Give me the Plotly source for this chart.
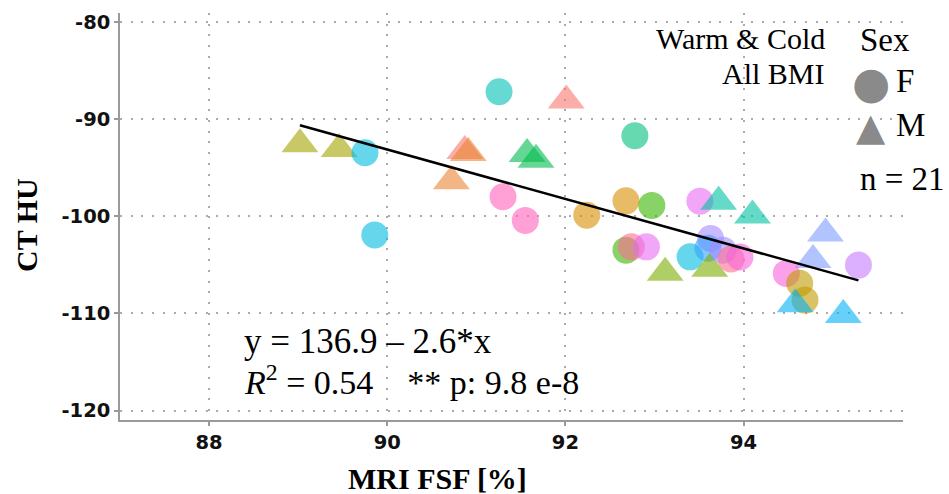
import plotly.graph_objects as go
import numpy as np

# ---------------- data ----------------
mri_fsf = [89.02, 89.46, 89.75, 89.86, 90.72, 90.87, 90.91, 91.255, 91.30, 91.55,
           91.57, 91.67, 92.01, 92.24, 92.68, 92.97, 92.68, 92.74, 92.91, 92.78,
           93.12, 93.51, 93.72, 94.10, 93.40, 93.63, 93.60, 93.62, 93.77, 93.86,
           93.96, 94.92, 94.78, 95.29, 94.48, 94.63, 94.69, 94.58, 95.12]
ct_hu = [-92.61, -93.09, -93.48, -101.94, -96.4, -93.3, -93.5, -87.2, -98.0, -100.43,
         -93.6, -94.2, -88.09, -99.89, -98.42, -98.89, -103.49, -103.15, -103.15, -91.73,
         -105.82, -98.45, -98.52, -99.92, -104.18, -102.29, -103.3, -105.41, -103.49, -104.4,
         -104.2, -101.77, -104.5, -105.03, -105.88, -106.9, -108.63, -109.05, -110.17]
sex = ['M', 'M', 'F', 'F', 'M', 'M', 'M', 'F', 'F', 'F',
       'M', 'M', 'M', 'F', 'F', 'F', 'F', 'F', 'F', 'F',
       'M', 'F', 'M', 'M', 'F', 'F', 'F', 'M', 'F', 'F',
       'F', 'M', 'M', 'F', 'F', 'F', 'F', 'M', 'M']
subject = [4, 4, 11, 11, 1, 0, 1, 10, 18, 18,
           7, 7, 0, 2, 2, 6, 6, 19, 16, 8,
           5, 16, 9, 9, 11, 20, 13, 5, 20, 19,
           17, 14, 14, 15, 17, 3, 3, 12, 12]

x_ticks = [88, 90, 92, 94]
y_ticks = [-80, -90, -100, -110, -120]

# ---------------- styles ----------------
palette = ['#F8766D', '#EA8331', '#D89000', '#C09B00', '#A3A500', '#7CAE00', '#39B600',
           '#00BB4E', '#00BF7D', '#00C1A3', '#00BFB5', '#00BAE0', '#00B0F6', '#35A2FF',
           '#7F9CFF', '#C77CFF', '#E76BF3', '#FA62DB', '#FF62BC', '#FF6C91', '#A58AFF']
sym_map = {'F': 'circle', 'M': 'triangle-up'}
size_map = {'F': 27, 'M': 32}

W, H = 949, 494
L, R, T, B = 120, 46, 13, 74
PW, PH = W - L - R, H - T - B


def px(xp):
    return (xp - L) / PW


def py(yp):
    return (H - B - yp) / PH


fig = go.Figure()

fig.add_trace(go.Scatter(
    x=mri_fsf, y=ct_hu, mode='markers', showlegend=False,
    marker=dict(symbol=[sym_map[s] for s in sex],
                size=[size_map[s] for s in sex],
                color=[palette[i] for i in subject],
                opacity=0.6, line=dict(width=0)),
))

slope, intercept = np.polyfit(mri_fsf, ct_hu, 1)
xs = [min(mri_fsf), max(mri_fsf)]
fig.add_trace(go.Scatter(
    x=xs, y=[intercept + slope * v for v in xs], mode='lines', showlegend=False,
    line=dict(color='black', width=2.5),
))

grid = dict(showgrid=True, gridcolor='#ababab', gridwidth=2, griddash='2px,8.7px',
            showline=True, linecolor='#9a9a9a', linewidth=1.5, zeroline=False,
            ticks='outside', ticklen=4, tickcolor='#9a9a9a', tickwidth=1.5,
            tickfont=dict(family='DejaVu Sans', size=19.5, color='#111111', weight='bold'))

fig.update_layout(
    width=W, height=H,
    margin=dict(l=L, r=R, t=T, b=B),
    plot_bgcolor='white', paper_bgcolor='white',
    xaxis=dict(range=[87.0, 95.79], tickvals=x_ticks, ticktext=[str(v) for v in x_ticks], **grid),
    yaxis=dict(range=[-120.96, -79.1], tickvals=y_ticks, ticktext=[str(v) for v in y_ticks], **grid),
)

# white label boxes (cover grid lines like the reference's labels)
boxes = [(620, 852, -5, 98), (228, 617, 302, 406), (853, 960, -5, 200)]
for x0, x1, y0, y1 in boxes:
    fig.add_shape(type='rect', xref='paper', yref='paper', layer='between',
                  x0=px(x0), x1=px(x1), y0=py(y1), y1=py(y0),
                  fillcolor='white', line=dict(width=0))

serif = 'Liberation Serif'


def ann(text, x, y, size, xanchor='left', color='black', bold=False, angle=0, family=serif):
    fig.add_annotation(text=text, xref='paper', yref='paper', x=px(x), y=py(y),
                       xanchor=xanchor, yanchor='middle', showarrow=False, textangle=angle,
                       font=dict(family=family, size=size, color=color,
                                 weight='bold' if bold else 'normal'))


# panel texts
ann('Warm &amp; Cold', 827, 38, 30, xanchor='right')
ann('All BMI', 827, 73, 30, xanchor='right')
ann('y = 136.9 \u2013 2.6*x', 242, 341, 35)
ann('<i>R</i><sup>2</sup> = 0.54 \u00a0\u00a0 ** p: 9.8 e-8', 242, 380, 34)

# legend (Sex) + n
ann('Sex', 858, 40, 33)
ann('\u25CF', 871, 83, 44, xanchor='center', color='#8a8a8a', family='DejaVu Sans')
ann('F', 894, 81, 33)
ann('\u25B2', 871, 127, 38, xanchor='center', color='#8a8a8a', family='DejaVu Sans')
ann('M', 894, 125, 33)
ann('n = 21', 858, 179, 33)

# axis titles
ann('MRI FSF [%]', 437.5, 478, 30, xanchor='center', bold=True)
ann('CT HU', 26, 225, 30, xanchor='center', bold=True, angle=-90)

fig.write_html('out.html')
